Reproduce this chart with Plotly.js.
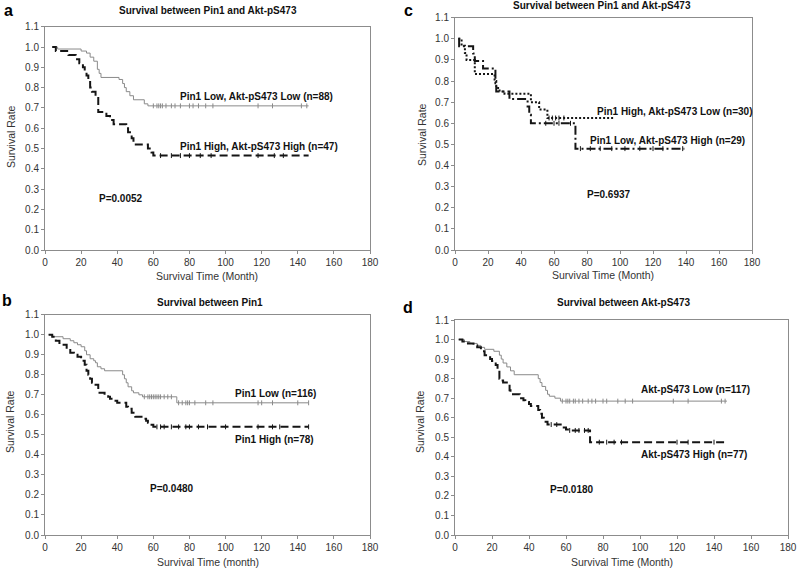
<!DOCTYPE html>
<html><head><meta charset="utf-8">
<script src="https://cdn.plot.ly/plotly-3.0.1.min.js"></script>
<style>body{margin:0;background:#fff}#chart{width:800px;height:570px}</style>
</head><body><div id="chart"></div>
<script>
// ---- Panel a: Pin1 & Akt-pS473 combined ----
var aLowT  = [4,7,20,23,25,27,29,30,31,41,43,44,45,47,49,55,57,146];
var aLowS  = [1.0,0.99,0.98,0.97,0.95,0.93,0.89,0.87,0.85,0.84,0.82,0.80,0.78,0.76,0.74,0.72,0.71,0.71];
var aLowC  = [60,62,63,64,65,67,70,72,75,80,82,85,89,93,118,126,142,145];
var aHighT = [4,6,13,17,19,21,22,23,24,25,26,28,29.5,34,36,38,45,46,48,49,57,59,60,146];
var aHighS = [1.0,0.98,0.96,0.94,0.92,0.90,0.88,0.86,0.84,0.80,0.78,0.76,0.68,0.66,0.64,0.62,0.60,0.58,0.55,0.52,0.50,0.48,0.465,0.465];
var aHighC = [64,70,75,80,86,92,118,127,132];

// ---- Panel c ----
var cHLT = [2,4,6,7,12,24,25,27,30,46,51,56,96];
var cHLS = [1.0,0.967,0.933,0.90,0.833,0.80,0.767,0.75,0.74,0.70,0.665,0.625,0.625];
var cHLC = [57,59,61,63,66];
var cLHT = [2,2.5,11,12,17,24.5,25,33,44,45,46,73,139];
var cLHS = [1.0,0.965,0.93,0.895,0.86,0.79,0.75,0.715,0.68,0.64,0.60,0.48,0.48];
var cLHC = [55,60,63,70,76,82,88,95,103,112,120,126,138];

// ---- Panel b: Pin1 ----
var bLowT  = [2,4,10,14,16,18,20,22,23,25,27,28,29,31,33,43,44,45,46,48,49,52,54,73,146];
var bLowS  = [1.0,0.99,0.98,0.97,0.96,0.95,0.94,0.92,0.90,0.88,0.87,0.86,0.84,0.83,0.82,0.80,0.78,0.76,0.74,0.72,0.71,0.70,0.69,0.66,0.66];
var bLowC  = [55,57,58,59,60,61,62,63,64,66,68,70,74,76,78,79,80,83,89,93,118,120,126,140,146];
var bHighT = [2,4,6,8,12,14,16,18,20,22,23,24,25,26,28,29.5,33,35,36,38,40,45,46,48,50,54,56,57,59,60,146];
var bHighS = [1.0,0.99,0.97,0.95,0.93,0.91,0.90,0.89,0.87,0.85,0.82,0.80,0.78,0.76,0.75,0.71,0.70,0.69,0.68,0.67,0.66,0.64,0.63,0.61,0.59,0.58,0.57,0.56,0.55,0.54,0.54];
var bHighC = [62,64,66,70,74,78,80,85,90,100,118,126,130,146];

// ---- Panel d: Akt-pS473 ----
var dLowT  = [2,5,8,12,14,16,21,24,25,26,28,30,32,45,46,47,49,50,51,54,57,147];
var dLowS  = [1.0,0.99,0.98,0.97,0.96,0.95,0.94,0.92,0.90,0.88,0.86,0.84,0.82,0.80,0.78,0.76,0.74,0.72,0.71,0.70,0.685,0.685];
var dLowC  = [58,60,61,62,64,65,67,69,72,74,76,80,82,88,92,96,118,126,144,146];
var dHighT = [2,4,7,10,12,14,16,18,19,20,22,23,24,25,26,28,29.5,30,35,37,38,40,41,45,46,47,48,50,58,60,61,73,147];
var dHighS = [1.0,0.99,0.98,0.97,0.96,0.94,0.92,0.91,0.90,0.89,0.87,0.85,0.80,0.79,0.78,0.77,0.74,0.72,0.70,0.69,0.68,0.67,0.66,0.64,0.62,0.60,0.58,0.565,0.55,0.54,0.535,0.475,0.475];
var dHighC = [52,55,62,65,67,70,72,78,82,86,90,120,126,140];

var xTicks = [0,20,40,60,80,100,120,140,160,180];
var yTicks = [0,0.1,0.2,0.3,0.4,0.5,0.6,0.7,0.8,0.9,1.0,1.1];

function survAt(T,S,t){var v=S[0];for(var i=0;i<T.length;i++){if(T[i]<=t)v=S[i];}return v;}

var GREY='#8a8a8a', BLK='#151515';
var traces=[];
function addCurve(T,S,C,xa,ya,color,width,dash){
  traces.push({x:T,y:S,xaxis:xa,yaxis:ya,mode:'lines',line:{shape:'hv',color:color,width:width,dash:dash},hoverinfo:'skip',showlegend:false});
  traces.push({x:C,y:C.map(function(t){return survAt(T,S,t);}),xaxis:xa,yaxis:ya,mode:'markers',
    marker:{symbol:'line-ns',size:3.5,line:{color:color,width:1}},hoverinfo:'skip',showlegend:false});
}
addCurve(aLowT,aLowS,aLowC,'x','y',GREY,1,'solid');
addCurve(aHighT,aHighS,aHighC,'x','y',BLK,2,'8px,4px');
addCurve(cHLT,cHLS,cHLC,'x2','y2',BLK,2,'2px,2px');
addCurve(cLHT,cLHS,cLHC,'x2','y2',BLK,2,'9px,3px,2px,3px');
addCurve(bLowT,bLowS,bLowC,'x3','y3',GREY,1,'solid');
addCurve(bHighT,bHighS,bHighC,'x3','y3',BLK,2,'8px,4px');
addCurve(dLowT,dLowS,dLowC,'x4','y4',GREY,1,'solid');
addCurve(dHighT,dHighS,dHighC,'x4','y4',BLK,2,'8px,4px');

var W=800,H=570;
function px(x){return x/W;} function py(y){return 1-y/H;}
var FONT='Liberation Sans, Arial, sans-serif';
function xax(l,r,anchor){return {domain:[px(l),px(r)],range:[0,180],tickvals:xTicks,anchor:anchor,showline:true,mirror:true,linecolor:'#8c8c8c',linewidth:1,
  ticks:'outside',ticklen:3,tickcolor:'#8c8c8c',showgrid:false,zeroline:false,tickfont:{size:10,color:'#333',family:FONT}};}
function yax(b,t,anchor){return {domain:[py(b),py(t)],range:[0,1.1],tickvals:yTicks,tickformat:'.1f',anchor:anchor,showline:true,mirror:true,linecolor:'#8c8c8c',linewidth:1,
  ticks:'outside',ticklen:3,tickcolor:'#8c8c8c',showgrid:false,zeroline:false,tickfont:{size:10,color:'#333',family:FONT}};}

var ann=[];
function pa(text,x,y,opt){var o={text:text,x:px(x),y:py(y),xref:'paper',yref:'paper',xanchor:'center',yanchor:'middle',showarrow:false,font:{family:FONT,size:10,color:'#111'}};
  for(var k in opt){o[k]=opt[k];} ann.push(o);}
function da(text,x,y,xr,yr){ann.push({text:'<b>'+text+'</b>',x:x,y:y,xref:xr,yref:yr,xanchor:'left',yanchor:'middle',showarrow:false,font:{family:FONT,size:10,color:'#111'}});}

// panel letters
pa('<b>a</b>',8,0,{yanchor:'top',font:{family:FONT,size:16,color:'#000'}});
pa('<b>c</b>',408,0,{yanchor:'top',font:{family:FONT,size:16,color:'#000'}});
pa('<b>b</b>',7,300,{font:{family:FONT,size:16,color:'#000'}});
pa('<b>d</b>',408,307,{font:{family:FONT,size:16,color:'#000'}});
// titles
pa('<b>Survival between Pin1 and Akt-pS473</b>',208,11,{});
pa('<b>Survival between Pin1 and Akt-pS473</b>',602,5,{});
pa('<b>Survival between Pin1</b>',210,302,{});
pa('<b>Survival between Akt-pS473</b>',623,302,{});
// axis titles
var AT={family:FONT,size:10.5,color:'#333'};
pa('Survival Rate',11,137,{textangle:-90,font:AT});
pa('Survival Rate',422,135,{textangle:-90,font:AT});
pa('Survival Rate',10,422,{textangle:-90,font:AT});
pa('Survival Rate',420,422,{textangle:-90,font:AT});
pa('Survival Time (Month)',207,276,{font:AT});
pa('Survival Time (Month)',603,275,{font:AT});
pa('Survival Time (month)',208,562,{font:AT});
pa('Survival Time (Month)',622,562,{font:AT});
// curve labels and P values
da('Pin1 Low, Akt-pS473 Low (n=88)',73.6,0.754,'x','y');
da('Pin1 High, Akt-pS473 High (n=47)',73.6,0.512,'x','y');
da('P=0.0052',28.8,0.256,'x','y');
da('Pin1 High, Akt-pS473 Low (n=30)',84.8,0.655,'x2','y2');
da('Pin1 Low, Akt-pS473 High (n=29)',80.6,0.517,'x2','y2');
da('P=0.6937',78.8,0.265,'x2','y2');
da('Pin1 Low (n=116)',103.9,0.708,'x3','y3');
da('Pin1 High (n=78)',103.9,0.475,'x3','y3');
da('P=0.0480',57,0.23,'x3','y3');
da('Akt-pS473 Low (n=117)',99.5,0.742,'x4','y4');
da('Akt-pS473 High (n=77)',99.5,0.414,'x4','y4');
da('P=0.0180',50.3,0.235,'x4','y4');

var layout={width:W,height:H,margin:{l:0,r:0,t:0,b:0},paper_bgcolor:'#fff',plot_bgcolor:'#fff',showlegend:false,
  xaxis:xax(45,370,'y'),yaxis:yax(250,26.7,'x'),
  xaxis2:xax(455,752,'y2'),yaxis2:yax(250,17.7,'x2'),
  xaxis3:xax(45,370,'y3'),yaxis3:yax(535,314.7,'x3'),
  xaxis4:xax(455,788,'y4'),yaxis4:yax(535,320,'x4'),
  annotations:ann};
Plotly.newPlot('chart',traces,layout,{staticPlot:true,displayModeBar:false});
</script></body></html>
